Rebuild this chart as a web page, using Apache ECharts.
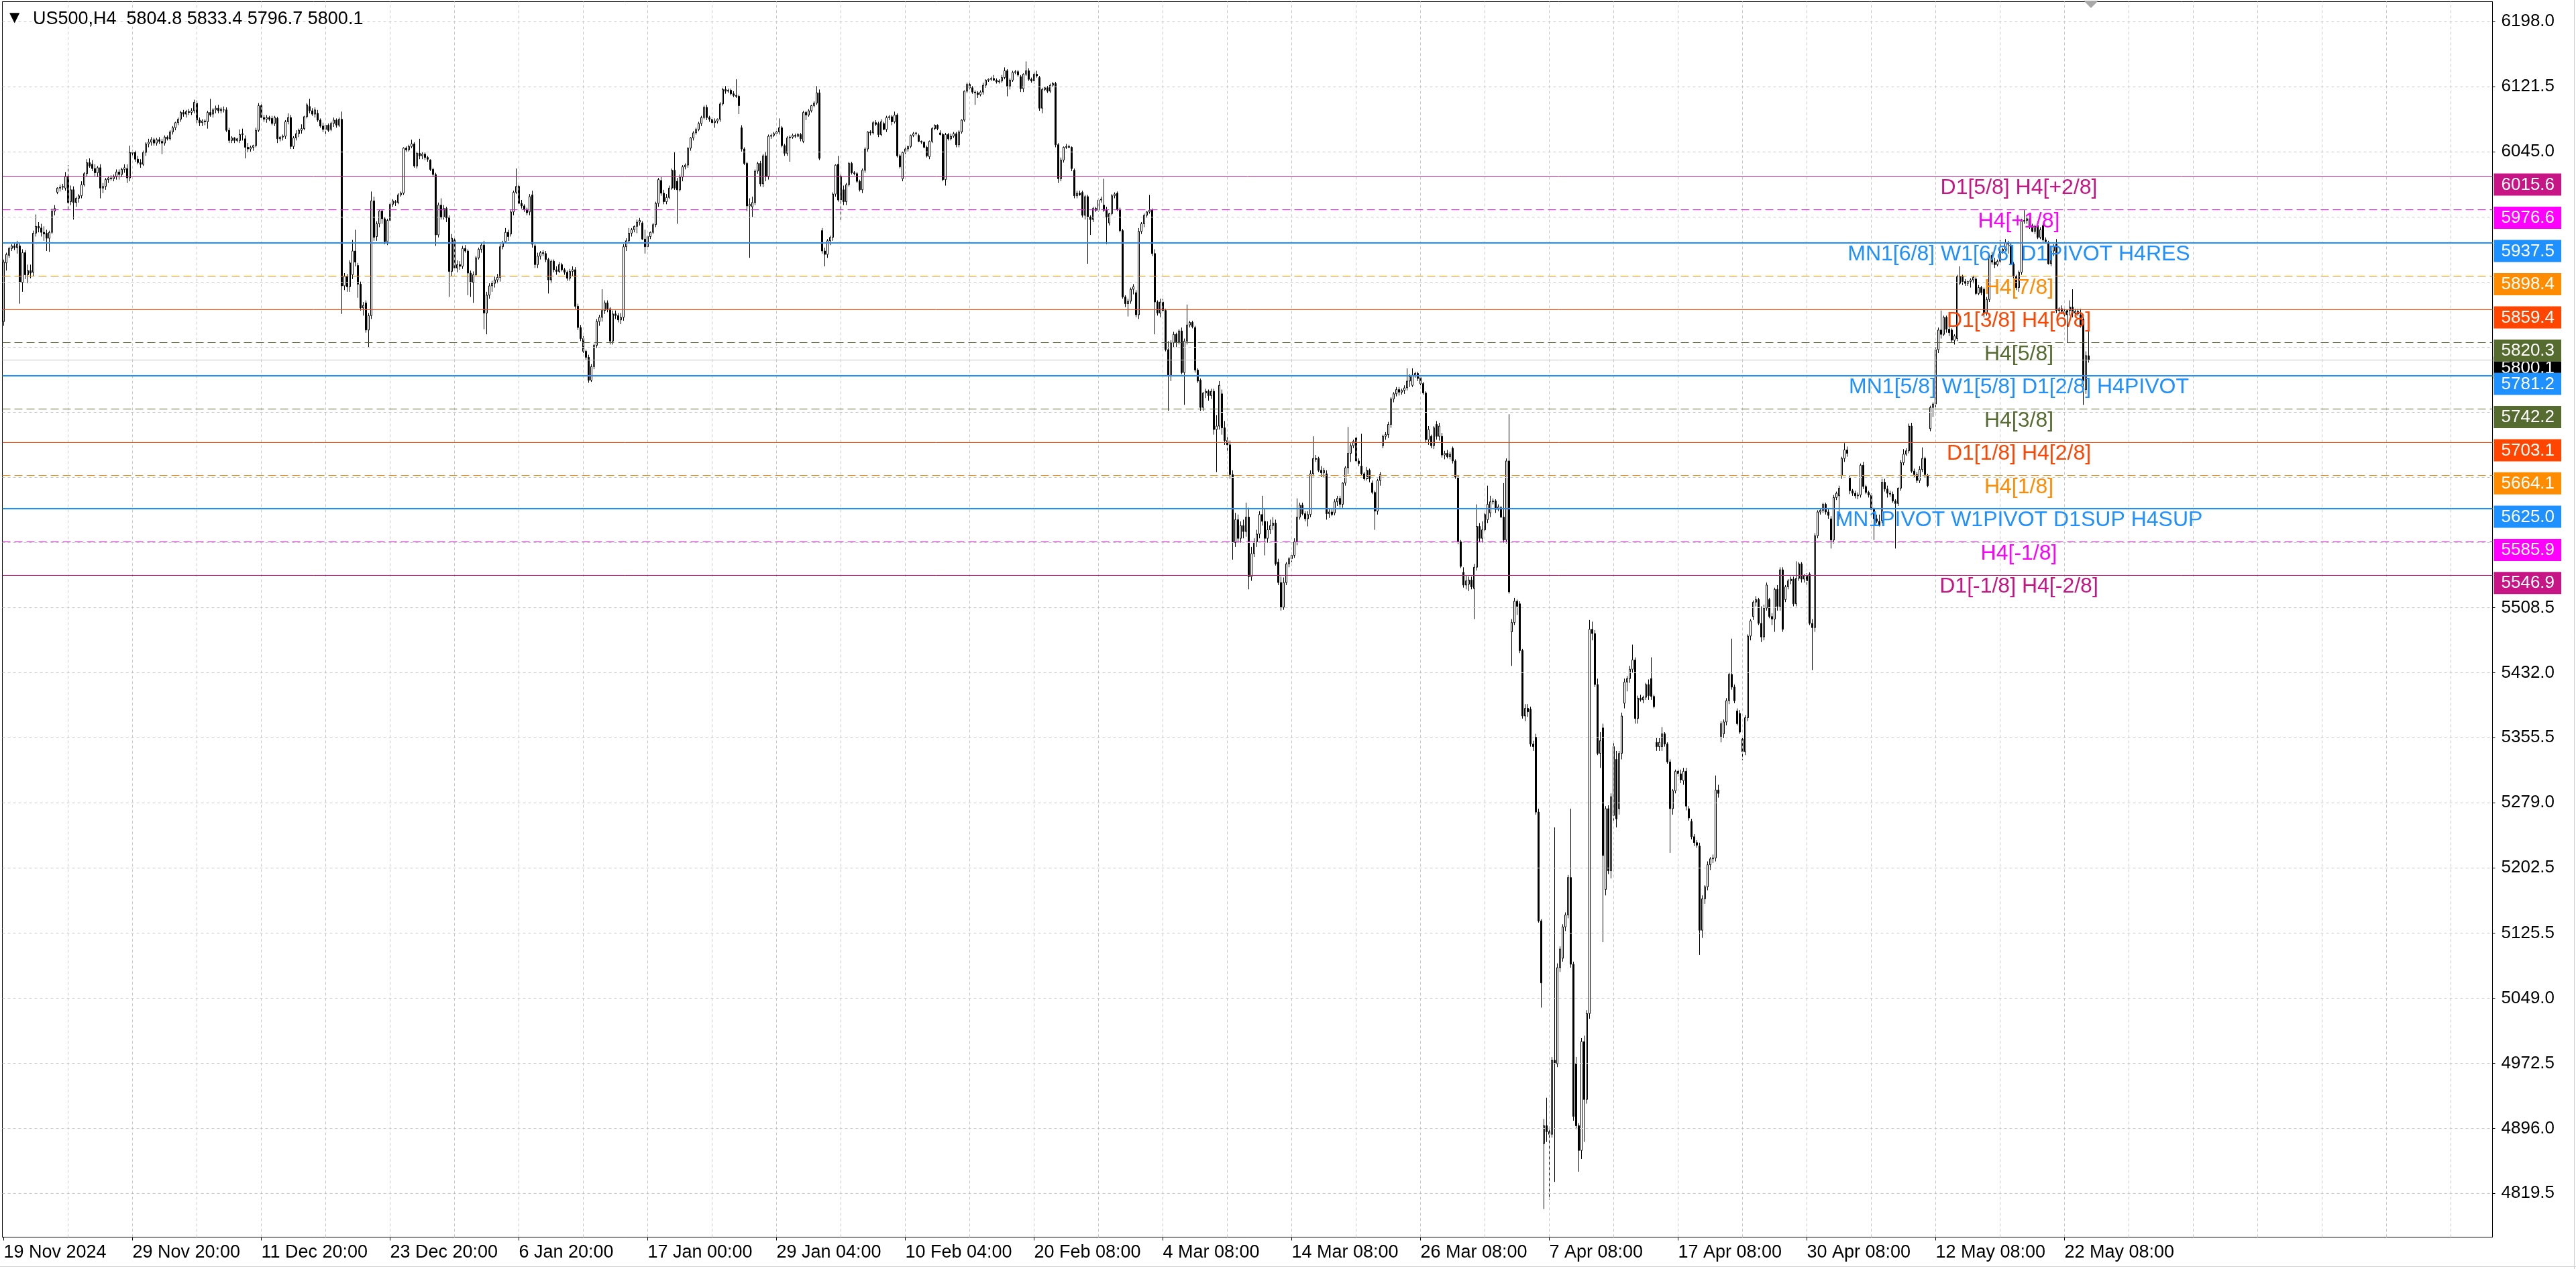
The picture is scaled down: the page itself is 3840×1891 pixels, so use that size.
<!DOCTYPE html>
<html><head><meta charset="utf-8">
<script src="https://cdn.jsdelivr.net/npm/echarts@6/dist/echarts.min.js"></script>
<style>html,body{margin:0;padding:0;background:#fff;overflow:hidden}#c{width:3840px;height:1891px}</style>
</head><body><div id="c"></div>
<script>
// ---------------- DATA ----------------
const symbolTitle = 'US500,H4';
const lastBarText = '5804.8 5833.4 5796.7 5800.1';
const dateLabels = ['19 Nov 2024','29 Nov 20:00','11 Dec 20:00','23 Dec 20:00','6 Jan 20:00','17 Jan 00:00','29 Jan 04:00','10 Feb 04:00','20 Feb 08:00','4 Mar 08:00','14 Mar 08:00','26 Mar 08:00','7 Apr 08:00','17 Apr 08:00','30 Apr 08:00','12 May 08:00','22 May 08:00'];
const yLabelValues = [4819.5,4896.0,4972.5,5049.0,5125.5,5202.5,5279.0,5355.5,5432.0,5508.5,6045.0,6121.5,6198.0];
const yGridValues = [4819.5,4896.0,4972.5,5049.0,5125.5,5202.5,5279.0,5355.5,5432.0,5508.5,5585.3,5661.9,5738.5,5815.1,5891.7,5968.2,6045.0,6121.5,6198.0];
const levelPrices = [6015.6,5976.6,5937.5,5898.4,5859.4,5820.3,5781.2,5742.2,5703.1,5664.1,5625.0,5585.9,5546.9];
const levelNames = ['D1[5/8] H4[+2/8]','H4[+1/8]','MN1[6/8] W1[6/8] D1PIVOT H4RES','H4[7/8]','D1[3/8] H4[6/8]','H4[5/8]','MN1[5/8] W1[5/8] D1[2/8] H4PIVOT','H4[3/8]','D1[1/8] H4[2/8]','H4[1/8]','MN1PIVOT W1PIVOT D1SUP H4SUP','H4[-1/8]','D1[-1/8] H4[-2/8]'];
const currentPrice = 5800.1;

// H4 bars: [open, high, low, close]
const ohlcNov = [
[5845,5918,5840,5915],[5914,5926,5905,5924],[5923,5933,5920,5931],[5931,5936,5928,5934],[5934,5938,5929,5932],[5932,5940,5925,5936],
[5934,5938,5866,5891],[5891,5930,5880,5926],[5926,5929,5895,5900],[5900,5912,5890,5905],[5905,5912,5896,5902],[5903,5952,5898,5949],
[5949,5971,5945,5957],[5957,5962,5950,5955],[5955,5960,5945,5950],[5950,5957,5940,5948],[5949,5953,5928,5943],[5943,5952,5927,5950],
[5950,5978,5948,5975],[5975,5982,5970,5978],[5997,6003,5995,6002],[6002,6006,5998,6003],[6003,6007,6000,6004],[6002,6021,5999,6016],
[6016,6029,5975,5985],[5986,6005,5982,6000],[6000,6004,5965,5985],[5985,5992,5980,5990],[5990,5995,5985,5993],[5993,6010,5990,6006],
[6006,6021,6004,6019],[6019,6036,6016,6032],[6032,6037,6026,6028],[6030,6035,6022,6025],[6025,6030,6016,6020],[6020,6028,6015,6026],
[6026,6030,5990,6002],[6002,6008,5996,6004],[6004,6014,6000,6012],[6012,6016,6008,6014],[6014,6017,6011,6013],[6013,6018,6010,6016],
[6016,6024,6012,6021],[6021,6024,6012,6018],[6018,6026,6015,6024],[6024,6030,6020,6026],[6025,6030,6008,6014],[6014,6052,6010,6044],
[6044,6047,6040,6043]
];
const ohlcDec = [
[6044,6046,6033,6036],[6036,6040,6030,6032],[6032,6036,6026,6030],[6030,6046,6028,6044],[6044,6056,6040,6054],[6054,6060,6050,6056],
[6056,6062,6052,6059],[6059,6061,6052,6055],[6055,6061,6052,6059],[6059,6062,6054,6057],[6057,6060,6042,6055],[6055,6064,6052,6062],
[6062,6064,6058,6060],[6060,6070,6058,6068],[6068,6075,6065,6073],[6073,6080,6070,6079],[6079,6085,6076,6083],[6083,6093,6080,6091],
[6091,6094,6086,6089],[6089,6094,6085,6092],[6092,6095,6088,6091],[6091,6096,6088,6093],[6093,6106,6090,6103],[6102,6105,6078,6082],
[6082,6085,6075,6079],[6079,6083,6075,6081],[6081,6083,6076,6080],[6080,6093,6072,6091],[6091,6107,6086,6088],[6089,6096,6085,6094],
[6094,6099,6090,6096],[6096,6100,6090,6093],[6093,6097,6090,6095],[6094,6098,6091,6094],[6094,6097,6068,6070],[6070,6073,6055,6058],
[6058,6063,6055,6061],[6061,6062,6055,6058],[6058,6061,6056,6060],[6058,6071,6055,6065],[6065,6072,6058,6066],[6060,6064,6037,6050],
[6050,6055,6044,6048],[6048,6052,6045,6050],[6050,6053,6046,6052],[6052,6073,6050,6070],[6070,6102,6068,6099],[6099,6102,6083,6085],
[6085,6088,6080,6083],[6083,6088,6079,6085],[6085,6087,6081,6083],[6084,6087,6076,6078],[6078,6087,6075,6085],[6084,6086,6055,6060],
[6060,6063,6057,6062],[6062,6065,6058,6063],[6063,6082,6060,6080],[6080,6090,6077,6085],[6085,6088,6048,6051],[6051,6063,6048,6061],
[6061,6070,6058,6066],[6066,6072,6062,6070],[6070,6077,6066,6072],[6072,6087,6070,6086],[6086,6102,6084,6100],[6098,6107,6090,6093],
[6093,6096,6087,6089],[6089,6097,6085,6094],[6090,6094,6080,6082],[6082,6084,6073,6075],[6075,6079,6068,6071],[6071,6078,6063,6076],
[6076,6078,6068,6070],[6071,6080,6069,6078],[6078,6085,6074,6082],[6082,6084,6073,6076],[6076,6085,6074,6083],[6083,6092,5854,5887],
[5887,5902,5882,5898],[5898,5901,5880,5886],[5886,5917,5880,5914],[5900,5941,5895,5928],[5928,5953,5910,5915],[5911,5914,5873,5889],
[5889,5892,5858,5861],[5861,5868,5852,5864],[5867,5870,5832,5835],[5835,5855,5815,5852],[5852,5998,5848,5987],[5987,5992,5940,5944],
[5945,5963,5940,5960],[5960,5976,5956,5975],[5975,5977,5960,5966],[5966,5968,5936,5939],[5939,5966,5935,5964],[5964,5985,5962,5983],
[5983,5989,5980,5987],[5986,5988,5981,5985],[5985,5996,5983,5994],[5994,5998,5992,5996],[5996,6050,5994,6049],[6049,6051,6045,6047],
[6047,6053,6045,6051],[6051,6059,6049,6054],[6054,6056,6026,6028],[6028,6045,6025,6043],[6043,6060,6036,6040],[6040,6044,6036,6042],
[6042,6044,6035,6038],[6038,6040,6033,6036],[6035,6036,6022,6024],[6024,6026,6015,6018],[6018,6020,5934,5947],[5947,5985,5944,5982],
[5982,5990,5965,5968],[5968,5982,5965,5978],[5978,5980,5962,5967],[5967,5970,5874,5904],[5904,5948,5898,5943],[5941,5945,5905,5908],
[5908,5917,5903,5912],[5912,5916,5906,5910],[5910,5934,5907,5931],[5931,5935,5926,5928],[5928,5930,5876,5902],[5902,5905,5874,5891]
];
const ohlcJan = [
[5891,5904,5867,5900],[5900,5922,5898,5920],[5920,5932,5918,5930],[5930,5937,5926,5935],[5935,5940,5836,5855],[5855,5880,5830,5876],
[5876,5890,5872,5887],[5887,5893,5880,5890],[5890,5898,5885,5894],[5894,5901,5890,5897],[5897,5936,5892,5933],[5933,5940,5930,5938],
[5939,5955,5937,5950],[5950,5953,5940,5945],[5948,5976,5945,5974],[5974,5999,5970,5997],[5997,6025,5995,6004],[6004,6006,5982,5984],
[5984,5988,5978,5981],[5981,5983,5974,5977],[5977,5979,5970,5973],[5974,5995,5970,5992],[5994,5999,5932,5936],[5934,5936,5908,5912],
[5912,5926,5908,5922],[5922,5928,5918,5926],[5926,5929,5922,5925],[5925,5928,5915,5918],[5918,5920,5878,5894],[5894,5918,5890,5916],
[5916,5918,5903,5906],[5906,5910,5900,5904],[5904,5915,5902,5912],[5912,5914,5904,5906],[5906,5908,5900,5903],[5903,5905,5893,5896],
[5896,5907,5893,5904],[5904,5910,5898,5906],[5906,5909,5860,5863],[5863,5866,5835,5838],[5838,5841,5822,5825],[5825,5828,5808,5810],
[5810,5812,5800,5803],[5803,5806,5773,5776],[5776,5795,5774,5792],[5792,5819,5789,5817],[5817,5848,5814,5845],[5845,5853,5840,5850],
[5850,5883,5845,5858],[5858,5870,5854,5867],[5867,5870,5856,5860],[5860,5862,5818,5822],[5822,5858,5818,5854],[5854,5858,5848,5852],
[5852,5855,5844,5847],[5847,5855,5842,5850],[5850,5936,5846,5933],[5933,5943,5928,5940],[5940,5955,5937,5949],[5949,5955,5945,5953],
[5953,5958,5950,5957],[5957,5965,5949,5962],[5962,5967,5958,5964],[5961,5963,5941,5942],[5942,5953,5925,5933],[5933,5946,5930,5945],
[5945,5951,5942,5950],[5950,5961,5948,5959],[5959,5986,5956,5984],[5984,6014,5980,6012],[6011,6015,5993,5996],[5996,6000,5983,5986],
[5986,5995,5983,5991],[5991,6005,5989,6002],[6002,6025,6000,6023],[6023,6044,6000,6002],[6010,6014,5960,6000],[6000,6018,5998,6015],
[6015,6029,6010,6027],[6027,6031,6024,6029],[6029,6050,6026,6049],[6049,6062,6046,6061],[6061,6069,6058,6067],[6067,6073,6065,6071],
[6071,6080,6069,6078],[6078,6087,6075,6085],[6085,6099,6083,6097],[6097,6100,6082,6085],[6085,6087,6080,6083],[6083,6085,6076,6079],
[6079,6084,6073,6081],[6081,6084,6078,6083],[6083,6103,6080,6101],[6101,6120,6099,6118],[6118,6122,6113,6116],[6116,6119,6114,6117],
[6117,6119,6111,6113],[6113,6116,6109,6111],[6111,6130,6108,6110],[6110,6112,6089,6099],[6073,6076,6045,6048],[6048,6050,6029,6031],
[6031,6033,5975,5981],[5981,5990,5920,5983],[5980,5992,5968,5985],[5985,6024,5982,6022],[6022,6033,6019,6031],[6031,6034,6004,6007],
[6007,6042,6003,6040],[6040,6045,6010,6016],[6016,6065,6012,6063],[6063,6066,6060,6064],[6064,6068,6062,6066],[6066,6070,6063,6068],
[6068,6084,6065,6073],[6073,6075,6050,6052],[6052,6054,6040,6043],[6043,6063,6040,6061],[6061,6064,6033,6062],[6062,6066,6060,6064],
[6064,6066,6061,6063],[6063,6067,6062,6065],[6065,6067,6057,6060],[6057,6093,6055,6091],[6091,6093,6082,6088],[6088,6095,6086,6093],
[6093,6100,6091,6099],[6099,6104,6097,6102],[6102,6122,6100,6114],[6114,6118,6035,6037]
];
const ohlcFeb = [
[5952,5955,5925,5928],[5928,5932,5910,5924],[5924,5942,5920,5940],[5940,5946,5935,5944],[5944,5997,5940,5995],[5995,6030,5992,6029],
[6030,6040,5986,5988],[5988,6018,5963,6016],[6000,6005,5982,5986],[5986,6008,5982,6006],[6006,6033,6004,6031],[6031,6033,6018,6020],
[6020,6022,6017,6019],[6019,6021,6008,6010],[6010,6012,5998,6000],[6000,6025,5996,6023],[6023,6050,6020,6048],[6048,6069,6045,6068],
[6068,6070,6064,6067],[6067,6081,6065,6079],[6079,6082,6075,6077],[6078,6080,6062,6065],[6065,6083,6063,6080],[6078,6080,6070,6071],
[6071,6087,6068,6085],[6085,6088,6082,6086],[6086,6088,6076,6080],[6080,6092,6078,6088],[6088,6090,6038,6040],[6040,6042,6025,6027],
[6013,6045,6010,6044],[6044,6050,6042,6048],[6048,6052,6045,6051],[6051,6065,6049,6064],[6064,6068,6062,6066],[6066,6068,6064,6067],
[6064,6066,6056,6057],[6057,6058,6054,6056],[6056,6057,6049,6050],[6050,6052,6038,6040],[6039,6058,6036,6057],[6057,6074,6055,6072],
[6072,6077,6070,6076],[6076,6077,6070,6072],[6067,6070,6064,6065],[6065,6067,6010,6012],[6012,6067,6005,6065],[6065,6067,6058,6060],
[6060,6066,6058,6063],[6063,6068,6061,6066],[6066,6068,6050,6053],[6053,6070,6050,6068],[6068,6083,6066,6082],[6082,6117,6080,6116],
[6116,6126,6114,6124],[6124,6128,6118,6120],[6120,6122,6113,6115],[6115,6117,6100,6114],[6114,6116,6108,6112],[6112,6117,6110,6115],
[6115,6126,6112,6123],[6123,6130,6120,6129],[6129,6131,6127,6130],[6130,6133,6128,6131],[6131,6135,6128,6129],[6129,6131,6125,6127],
[6127,6130,6125,6128],[6128,6135,6126,6132],[6132,6144,6130,6140],[6140,6142,6110,6122],[6122,6131,6118,6129],[6129,6140,6127,6138],
[6138,6141,6136,6139],[6139,6141,6133,6135],[6133,6135,6115,6119],[6119,6137,6115,6136],[6136,6151,6134,6140],[6140,6143,6128,6130],
[6130,6132,6126,6128],[6128,6138,6125,6136],[6136,6140,6132,6134],[6132,6134,6093,6096],[6096,6120,6090,6118],[6118,6121,6116,6120],
[6120,6122,6114,6116],[6116,6125,6114,6123],[6123,6127,6121,6125],[6125,6127,6050,6053],[6053,6055,6008,6013],[6013,6038,6010,6035],
[6035,6051,6032,6050],[6050,6054,6048,6051],[6051,6053,6049,6050],[6050,6051,6022,6025],[6023,6025,5990,5993],[5993,5999,5990,5996],
[5996,5999,5993,5994],[5997,5999,5967,5970],[5970,5994,5965,5992],[5992,5994,5913,5968],[5968,5970,5947,5965],[5965,5980,5962,5978],
[5978,5980,5974,5976],[5976,5990,5974,5988],[5988,5992,5985,5989],[5982,6013,5974,5976],[5976,5980,5936,5968],[5961,5973,5958,5972],
[5972,5995,5970,5993],[5993,5997,5990,5995],[5996,5998,5975,5977],[5977,5979,5950,5952],[5952,5954,5872,5874],[5874,5876,5862,5866],
[5866,5872,5851,5869],[5869,5885,5866,5883],[5883,5889,5877,5886],[5879,5882,5850,5853],[5853,5955,5848,5951]
];
const ohlcMar = [
[5951,5962,5948,5960],[5960,5972,5956,5970],[5970,5975,5967,5974],[5974,5994,5972,5976],[5976,5978,5922,5925],[5925,5930,5830,5868],
[5868,5870,5852,5855],[5855,5872,5850,5868],[5868,5872,5855,5858],[5858,5860,5810,5812],[5812,5822,5740,5781],[5781,5823,5775,5820],
[5820,5833,5815,5830],[5830,5832,5815,5821],[5821,5836,5818,5834],[5834,5838,5783,5785],[5785,5825,5747,5822],[5822,5865,5818,5841],
[5841,5846,5838,5844],[5844,5846,5837,5839],[5838,5840,5785,5788],[5788,5790,5773,5775],[5776,5778,5740,5744],[5744,5762,5740,5761],
[5761,5766,5755,5763],[5763,5765,5752,5758],[5758,5766,5754,5763],[5763,5766,5712,5718],[5718,5735,5668,5722],[5722,5775,5718,5770],
[5760,5765,5712,5720],[5720,5728,5700,5705],[5705,5712,5690,5700],[5700,5705,5660,5665],[5665,5670,5565,5585],[5585,5620,5580,5612],
[5612,5618,5585,5590],[5590,5610,5585,5605],[5605,5612,5590,5598],[5598,5632,5592,5615],[5615,5626,5530,5545],[5545,5580,5540,5572],
[5572,5590,5568,5586],[5586,5600,5580,5595],[5595,5622,5590,5618],[5618,5640,5605,5610],[5610,5625,5570,5590],[5590,5610,5585,5600],
[5600,5612,5595,5605],[5605,5615,5600,5608],[5608,5612,5558,5560],[5562,5566,5535,5538],[5538,5545,5505,5509],[5509,5544,5506,5538],
[5538,5562,5535,5560],[5560,5568,5556,5566],[5566,5573,5562,5570],[5570,5590,5567,5586],[5586,5637,5582,5615],[5615,5632,5612,5629],
[5629,5632,5617,5619],[5619,5622,5610,5613],[5613,5622,5604,5618],[5618,5670,5615,5666],[5666,5710,5663,5684],[5684,5688,5680,5683],
[5684,5686,5668,5670],[5670,5675,5662,5667],[5667,5673,5662,5670],[5666,5670,5612,5619],[5619,5624,5614,5621],[5621,5624,5616,5618],
[5620,5636,5617,5633],[5633,5640,5628,5637],[5637,5640,5626,5630],[5630,5656,5626,5655],[5655,5675,5652,5673],[5673,5721,5666,5690],
[5690,5702,5680,5699],[5699,5706,5696,5704],[5708,5712,5679,5681],[5681,5684,5675,5678],[5675,5713,5664,5666],[5666,5668,5658,5660],
[5660,5674,5658,5670],[5670,5672,5656,5660],[5655,5658,5642,5644],[5644,5646,5600,5622],[5622,5660,5618,5658],[5658,5668,5652,5665],
[5699,5712,5696,5710],[5710,5715,5706,5712],[5712,5727,5708,5724],[5724,5756,5720,5754],[5754,5762,5750,5760],[5760,5768,5757,5765],
[5765,5768,5758,5762],[5762,5766,5759,5764],[5764,5770,5760,5767],[5767,5790,5764,5775],[5775,5783,5768,5780],[5770,5790,5768,5782],
[5782,5786,5779,5784],[5784,5786,5775,5778],[5779,5782,5770,5772],[5772,5774,5759,5761],[5761,5763,5703,5706],[5706,5722,5700,5718],
[5710,5712,5696,5699],[5699,5722,5695,5720],[5724,5728,5706,5710],[5710,5726,5705,5722],[5710,5714,5685,5688],[5688,5693,5683,5690],
[5690,5694,5684,5686],[5686,5692,5683,5689],[5696,5698,5678,5681],[5681,5683,5660,5662],[5662,5664,5583,5586],[5586,5588,5555,5557],
[5550,5556,5532,5535],[5535,5546,5530,5540],[5536,5545,5528,5541],[5541,5545,5530,5533],[5531,5560,5495,5556],[5556,5630,5552,5604]
];
const ohlcApr = [
[5604,5608,5585,5590],[5590,5610,5585,5600],[5600,5620,5596,5618],[5612,5652,5608,5630],[5620,5640,5615,5633],[5633,5637,5630,5634],
[5634,5636,5620,5624],[5624,5630,5622,5627],[5626,5628,5614,5615],[5615,5655,5585,5588],[5588,5684,5584,5681],[5681,5736,5525,5527],
[5480,5495,5440,5491],[5491,5520,5488,5516],[5516,5518,5500,5510],[5513,5516,5455,5458],[5458,5460,5378,5381],[5381,5395,5375,5390],
[5390,5395,5380,5386],[5389,5392,5345,5348],[5348,5352,5340,5345],[5356,5360,5265,5268],[5268,5272,5138,5140],[5140,5142,5038,5067],
[4878,4907,4801,4899],[4899,4932,4880,4892],[4892,4898,4812,4889],[4889,4980,4885,4976],[4976,5250,4833,4972],[4972,5090,4968,5085],
[5085,5110,5080,5107],[5096,5136,5092,5133],[5133,5150,5128,5147],[5147,5194,5143,5191],[5191,5272,5085,5089],[5089,5092,4905,4910],
[4972,4980,4895,4899],[4899,4902,4845,4870],[4870,5002,4860,4998],[4998,5005,4880,4930],[4930,5035,4925,5031],[5031,5494,5025,5483],
[5483,5492,5470,5478],[5478,5482,5415,5418],[5418,5425,5335,5337],[5337,5362,5320,5352],[5367,5372,5115,5217],[5177,5275,5170,5272],
[5272,5276,5195,5199],[5199,5290,5190,5286],[5264,5350,5258,5345],[5330,5340,5250,5260],[5272,5340,5265,5337],[5337,5385,5330,5381],
[5396,5425,5390,5421],[5421,5428,5410,5425],[5425,5440,5420,5436],[5436,5465,5432,5447],[5447,5450,5372,5378],[5378,5405,5372,5402],
[5402,5406,5398,5400],[5400,5405,5396,5403],[5403,5420,5400,5418],[5418,5424,5400,5405],[5425,5450,5400,5404],[5404,5406,5390,5392],
[5350,5355,5340,5345],[5345,5355,5340,5350],[5345,5368,5340,5360],[5360,5362,5345,5348],[5348,5350,5325,5327],[5327,5330,5220,5272],
[5272,5295,5265,5293],[5293,5318,5290,5316],[5316,5320,5310,5313],[5313,5318,5302,5306],[5305,5320,5300,5316],[5316,5320,5270,5275],
[5272,5275,5258,5261],[5257,5260,5236,5239],[5239,5242,5228,5232],[5232,5235,5226,5229],[5228,5232,5100,5129],[5129,5170,5120,5166],
[5166,5182,5160,5180],[5180,5210,5176,5206],[5206,5215,5200,5213],[5213,5218,5208,5214],[5214,5311,5210,5294],[5294,5300,5285,5290],
[5357,5375,5350,5372],[5360,5377,5355,5374],[5374,5402,5370,5399],[5399,5432,5395,5430],[5430,5472,5412,5415],[5415,5418,5396,5399],
[5387,5390,5370,5372],[5384,5388,5360,5362],[5354,5356,5329,5339],[5339,5382,5335,5379],[5379,5477,5375,5475],[5475,5495,5470,5493],
[5498,5517,5494,5515],[5515,5522,5510,5518],[5518,5520,5488,5490],[5490,5510,5468,5474],[5474,5512,5470,5508],[5508,5538,5505,5535],
[5518,5520,5496,5498],[5498,5502,5488,5495],[5495,5532,5480,5530],[5530,5535,5505,5510],[5510,5556,5505,5553],[5553,5556,5480,5483],
[5518,5535,5515,5533],[5533,5542,5530,5540],[5540,5545,5536,5542],[5542,5545,5510,5513],[5513,5563,5510,5543],[5543,5562,5540,5560],
[5560,5562,5538,5542],[5542,5548,5538,5546],[5546,5549,5535,5540],[5548,5550,5488,5490],[5490,5495,5435,5485],[5485,5596,5480,5593]
];
const ohlcMay = [
[5593,5623,5590,5621],[5621,5625,5618,5623],[5623,5632,5620,5630],[5630,5632,5618,5621],[5621,5624,5613,5617],[5613,5616,5578,5588],
[5588,5641,5584,5638],[5638,5645,5635,5643],[5640,5652,5612,5649],[5664,5686,5660,5684],[5684,5702,5680,5694],[5694,5698,5686,5690],
[5661,5664,5642,5646],[5646,5648,5640,5643],[5643,5646,5637,5640],[5640,5644,5636,5641],[5641,5678,5638,5676],[5676,5680,5648,5651],
[5651,5653,5642,5644],[5644,5646,5638,5641],[5641,5643,5622,5624],[5624,5626,5588,5613],[5613,5618,5608,5610],[5610,5618,5604,5605],
[5611,5660,5608,5656],[5656,5660,5645,5648],[5648,5652,5638,5643],[5643,5646,5639,5642],[5642,5645,5632,5634],[5634,5636,5578,5631],
[5631,5650,5628,5649],[5649,5682,5646,5679],[5679,5695,5676,5689],[5689,5696,5687,5693],[5693,5725,5690,5722],[5722,5726,5667,5669],
[5669,5672,5662,5665],[5665,5668,5655,5658],[5658,5675,5655,5671],[5671,5697,5668,5684],[5684,5686,5662,5665],[5664,5666,5650,5652],
[5719,5746,5716,5744],[5744,5750,5733,5748],[5748,5815,5744,5812],[5812,5838,5808,5835],[5835,5858,5825,5830],[5830,5852,5828,5850],
[5850,5852,5832,5836],[5836,5840,5828,5832],[5835,5837,5820,5823],[5823,5830,5818,5828],[5825,5900,5822,5898],[5890,5910,5888,5898],
[5898,5900,5888,5892],[5892,5895,5887,5890],[5890,5893,5887,5892],[5892,5896,5885,5894],[5894,5899,5890,5897],[5895,5897,5876,5878],
[5878,5888,5876,5885],[5885,5887,5876,5879],[5883,5885,5850,5855],[5855,5874,5852,5871],[5871,5925,5868,5923],[5923,5927,5912,5915],
[5915,5920,5908,5912],[5912,5918,5910,5916],[5916,5941,5914,5928],[5928,5932,5925,5930],[5930,5942,5928,5938],[5938,5940,5925,5936],
[5935,5937,5912,5913],[5913,5915,5896,5898],[5898,5900,5882,5885],[5885,5905,5880,5903],[5903,5966,5900,5963],[5963,5976,5960,5964],
[5964,5968,5960,5966],[5966,5967,5954,5956],[5958,5960,5950,5951],[5951,5959,5948,5957],[5958,5963,5942,5944],[5944,5956,5942,5953],
[5958,5960,5939,5941],[5941,5944,5937,5939],[5938,5940,5912,5913],[5913,5930,5910,5928],[5928,5936,5922,5934],[5936,5942,5855,5858],
[5858,5862,5852,5860],[5860,5864,5854,5857],[5857,5860,5850,5853],[5853,5856,5820,5858],[5858,5870,5852,5862],[5862,5883,5850,5855],
[5855,5860,5850,5857],[5857,5860,5852,5854],[5853,5860,5838,5840],[5848,5850,5747,5775],[5765,5810,5760,5805],[5804.8,5833.4,5796.7,5800.1]
];

// ---------------- LAYOUT / STYLE ----------------
const FONT = "'Liberation Sans', Arial, sans-serif";
const SLOTS = 928, LABEL_STEP = 48, GRID_STEP = 24, LABEL_BAR = 751;
const levelColors = ['#C71585','#FF00FF','#1E90FF','#FF8C00','#FF4500','#556B2F','#1E90FF','#556B2F','#FF4500','#FF8C00','#1E90FF','#FF00FF','#C71585'];
const levelDashed = [false,true,false,true,false,true,false,true,false,true,false,true,false];

const bars = [].concat(ohlcNov, ohlcDec, ohlcJan, ohlcFeb, ohlcMar, ohlcApr, ohlcMay);
const candleData = bars.map(b => [b[0], b[3], b[2], b[1]]);
const categories = Array.from({length: SLOTS}, (_, i) =>
  (i % LABEL_STEP === 0 && i / LABEL_STEP < dateLabels.length) ? dateLabels[i / LABEL_STEP] : '');
const isLabelBar = (i) => i % LABEL_STEP === 0 && i / LABEL_STEP < dateLabels.length;

const xGrid = [];
for (let b = GRID_STEP; b < SLOTS; b += GRID_STEP) xGrid.push({xAxis: b});

function boxLabel(value, bg) {
  return {
    show: true, position: 'end', distance: 2,
    formatter: '{s| }\n{b|' + value.toFixed(1) + '}',
    rich: {
      s: {fontSize: 8, lineHeight: 24},
      b: {fontSize: 26, lineHeight: 27, fontFamily: FONT, color: '#fff', backgroundColor: bg, padding: [4, 10, 3, 11]}
    }
  };
}

const gridHelper = {
  type: 'line', name: 'grid', data: [], z: 1, silent: true,
  markLine: {
    silent: true, symbol: ['none', 'none'], animation: false,
    label: {show: false},
    lineStyle: {color: '#C8C8C8', width: 1, type: [4, 4]},
    emphasis: {disabled: true},
    data: xGrid.concat(yGridValues.map(v => ({yAxis: v})), [{
      yAxis: currentPrice,
      lineStyle: {color: '#C0C0C0', type: 'solid', width: 1},
      label: boxLabel(currentPrice, '#000000')
    }])
  }
};

const levelSeries = {
  type: 'line', name: 'levels', data: [], z: 2, silent: true,
  markLine: {
    silent: true, symbol: ['none', 'none'], animation: false,
    emphasis: {disabled: true},
    data: levelPrices.map((p, i) => ({
      yAxis: p,
      lineStyle: {color: levelColors[i], width: levelColors[i] === '#1E90FF' ? 2 : 1, type: levelDashed[i] ? [12, 6] : 'solid'},
      label: boxLabel(p, levelColors[i])
    }))
  },
  markPoint: {
    silent: true, animation: false,
    data: levelPrices.map((p, i) => ({
      coord: [LABEL_BAR, p], symbol: 'circle', symbolSize: 1,
      itemStyle: {color: 'rgba(0,0,0,0)'},
      label: {show: true, position: 'bottom', distance: 1, formatter: levelNames[i],
               color: levelColors[i], fontSize: 32, fontFamily: FONT}
    }))
  }
};

const candles = {
  type: 'candlestick', name: 'US500', data: candleData, z: 3,
  large: false, barWidth: 2, silent: true,
  itemStyle: {color: '#FFFFFF', color0: '#000000', borderColor: '#000000', borderColor0: '#000000', borderColorDoji: '#000000', borderWidth: 1}
};

const chart = echarts.init(document.getElementById('c'), null, {renderer: 'canvas', width: 3840, height: 1891});
chart.setOption({
  animation: false,
  backgroundColor: '#FFFFFF',
  title: [
    {text: '▼', left: 9, top: 12, textStyle: {fontSize: 20, color: '#000', fontFamily: 'DejaVu Sans', fontWeight: 'normal'}},
    {text: symbolTitle + '  ' + lastBarText, left: 44, top: 10, textStyle: {fontSize: 27, lineHeight: 27, color: '#000', fontFamily: FONT, fontWeight: 'normal'}}
  ],
  grid: {left: 3.5, top: 2.5, width: 3712, height: 1841, show: true, borderColor: '#000', borderWidth: 1, backgroundColor: 'rgba(0,0,0,0)'},
  xAxis: {
    type: 'category', data: categories, boundaryGap: true,
    axisLine: {show: true, lineStyle: {color: '#000', width: 1}},
    axisTick: {show: true, alignWithLabel: true, interval: (i) => isLabelBar(i), length: 5, lineStyle: {color: '#000'}},
    axisLabel: {show: true, interval: (i) => isLabelBar(i), align: 'left', margin: 10, fontSize: 27, fontFamily: FONT, color: '#000'},
    splitLine: {show: false}
  },
  yAxis: {
    type: 'value', position: 'right', min: 4768.0, max: 6221.3,
    axisLine: {show: true, lineStyle: {color: '#000', width: 1}},
    axisTick: {show: true, length: 4, customValues: yLabelValues, lineStyle: {color: '#000'}},
    axisLabel: {show: true, customValues: yLabelValues, formatter: v => v.toFixed(1), margin: 13, fontSize: 26, fontFamily: FONT, color: '#000'},
    splitLine: {show: false}
  },
  graphic: [
    {type: 'polygon', shape: {points: [[3106, 1], [3128, 1], [3117, 12]]}, style: {fill: '#A8A8A8'}, silent: true},
    {type: 'line', shape: {x1: 3837.5, y1: 0, x2: 3837.5, y2: 1891}, style: {stroke: '#D0D0D0', lineWidth: 1}, silent: true},
    {type: 'line', shape: {x1: 0, y1: 1887.5, x2: 3840, y2: 1887.5}, style: {stroke: '#D0D0D0', lineWidth: 1}, silent: true}
  ],
  series: [gridHelper, levelSeries, candles]
});
</script>
</body></html>
